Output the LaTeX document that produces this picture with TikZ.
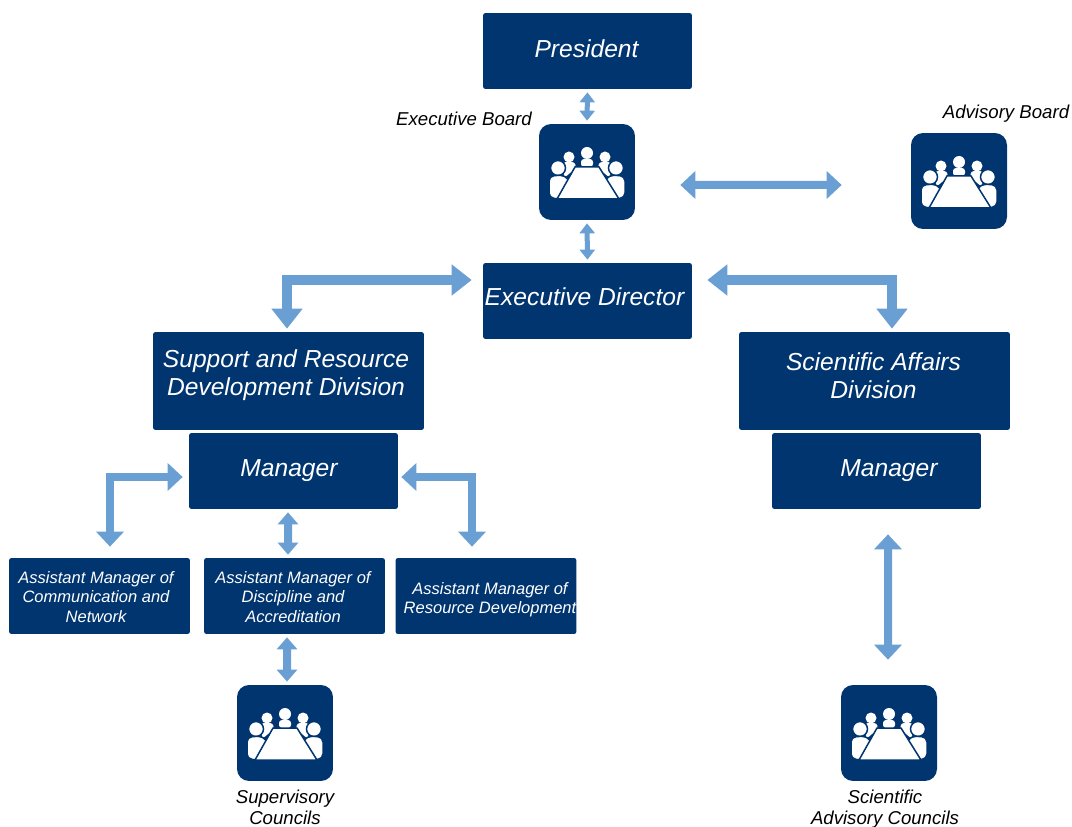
\documentclass[tikz,border=0pt]{standalone}
\usepackage{fontspec}
\setmainfont{Liberation Sans}
\usetikzlibrary{arrows.meta}
\definecolor{navy_box}{HTML}{003570}
\definecolor{arrow_blue}{HTML}{6A9FD4}
\begin{document}
\begin{tikzpicture}[x=0.02cm, y=-0.02cm,
    box_style/.style={fill=navy_box,rounded corners=0.05cm,inner sep=0pt},
    small_box_style/.style={box_style,minimum width=3.62cm,minimum height=1.52cm},
    text_style/.style={inner sep=0pt,align=center,text=white,font=\itshape\fontsize{14}{15.9}\selectfont},
    small_text_style/.style={text_style,font=\itshape\fontsize{9.4}{11}\selectfont},
    icon_style/.style={fill=navy_box,rounded corners=0.24cm,minimum size=1.92cm,inner sep=0pt},
    label_style/.style={inner sep=0pt,align=center,font=\itshape\fontsize{10.6}{12}\selectfont},
    edge_thin/.style={draw=arrow_blue,line width=0.1cm,{Triangle[length=0.2cm,width=0.3cm]}-{Triangle[length=0.2cm,width=0.3cm]}},
    edge_small/.style={draw=arrow_blue,line width=0.16cm,{Triangle[length=0.24cm,width=0.4cm]}-{Triangle[length=0.24cm,width=0.4cm]}},
    edge_mid/.style={draw=arrow_blue,line width=0.16cm,{Triangle[length=0.3cm,width=0.54cm]}-{Triangle[length=0.3cm,width=0.54cm]}},
    edge_large/.style={draw=arrow_blue,line width=0.2cm,{Triangle[length=0.4cm,width=0.6cm]}-{Triangle[length=0.4cm,width=0.6cm]}},
    board_icon/.pic={
      \fill[white] (0,-19) circle (6);
      \fill[white,rounded corners=0.06cm] (-6,-5) -- (-6,-13) -- (6,-13) -- (6,-5) -- cycle;
      \foreach \s in {-1,1} {
        \fill[white] (\s*18,-15) circle (5.5);
        \fill[white,rounded corners=0.06cm] (\s*11,-4) -- (\s*12,-10) -- (\s*24,-10) -- (\s*23,6) -- cycle;
        \fill[white,draw=navy_box,line width=0.03cm] (\s*29,-4) circle (7.5);
        \fill[white,rounded corners=0.1cm,draw=navy_box,line width=0.03cm] (\s*22,3) -- (\s*38,4) -- (\s*38,26) -- (\s*26,27) -- (\s*14,15) -- cycle;
      }
      \fill[white,draw=navy_box,line width=0.03cm] (-12,-5) -- (12,-5) -- (32,27) -- (-30,27) -- cycle;
    }]
  \useasboundingbox (0,0) rectangle (1072,827);
  \draw
    (587.5,51) node[box_style,minimum width=4.18cm,minimum height=1.52cm] (president){}
    (587,172) node[icon_style] (exec_board){}
    (959,181) node[icon_style] (adv_board){}
    (587.5,301) node[box_style,minimum width=4.18cm,minimum height=1.52cm] (director){}
    (288.5,381) node[box_style,minimum width=5.42cm,minimum height=1.96cm] (support){}
    (874.5,381) node[box_style,minimum width=5.42cm,minimum height=1.96cm] (science){}
    (293.5,471) node[box_style,minimum width=4.18cm,minimum height=1.52cm] (manager_a){}
    (876.5,471) node[box_style,minimum width=4.18cm,minimum height=1.52cm] (manager_b){}
    (99.5,596) node[small_box_style] (assist_a){}
    (294.5,596) node[small_box_style] (assist_b){}
    (486,596) node[small_box_style] (assist_c){}
    (285,733) node[icon_style] (sup_council){}
    (889,733) node[icon_style] (sci_council){}
    (586.5,49) node[text_style] (president_text){President}
    (584.5,297) node[text_style] (director_text){Executive Director}
    (286,375) node[text_style] (support_text){Support and Resource\\Development Division}
    (873.5,376) node[text_style] (science_text){Scientific Affairs\\Division}
    (289,471) node[text_style] (manager_a_text){Manager}
    (889,471) node[text_style] (manager_b_text){Manager}
    (96,597) node[small_text_style] (assist_a_text){Assistant Manager of\\Communication and\\Network}
    (293,597) node[small_text_style] (assist_b_text){Assistant Manager of\\Discipline and\\Accreditation}
    (490,600) node[small_text_style] (assist_c_text){Assistant Manager of\\Resource Development}
    (464,119) node[label_style] (exec_label){Executive Board}
    (1006,114) node[label_style] (adv_label){Advisory Board}
    (285,807.5) node[label_style] (sup_label){Supervisory\\Councils}
    (885,809.5) node[label_style] (sci_label){Scientific\\Advisory Councils};
  \pic at (exec_board) {board_icon};
  \pic at (adv_board) {board_icon};
  \pic at (sup_council) {board_icon};
  \pic at (sci_council) {board_icon};
  \begin{scope}[shorten <=0.06cm, shorten >=0.06cm]
    \draw[edge_thin] (president.south) to (exec_board.north);
    \draw[edge_thin] (exec_board.south) to (director.north);
    \draw[edge_mid,shorten <=0.9cm,shorten >=1.38cm] ([yshift=-0.26cm]exec_board.east) to ([yshift=-0.08cm]adv_board.west);
    \draw[edge_large,shorten >=0.22cm] ([xshift=-0.03cm]support.north) |- ([yshift=0.42cm]director.west);
    \draw[edge_large,shorten <=0.3cm] ([yshift=0.42cm]director.east) -| ([xshift=0.35cm]science.north);
    \draw[edge_mid,shorten <=0.22cm,shorten >=0.12cm] ([xshift=0.21cm]assist_a.north) |- ([yshift=-0.12cm]manager_a.west);
    \draw[edge_mid,shorten >=0.22cm] ([yshift=-0.12cm]manager_a.east) -| ([xshift=-0.28cm]assist_c.north);
    \draw[edge_small] ([xshift=-0.11cm]manager_a.south) to ([xshift=-0.13cm]assist_b.north);
    \draw[edge_small] ([xshift=-0.15cm]assist_b.south) to ([xshift=0.04cm]sup_council.north);
    \draw[edge_mid,shorten <=0.5cm,shorten >=0.5cm] ([xshift=0.23cm]manager_b.south) to ([xshift=-0.02cm]sci_council.north);
  \end{scope}
\end{tikzpicture}
\end{document}
